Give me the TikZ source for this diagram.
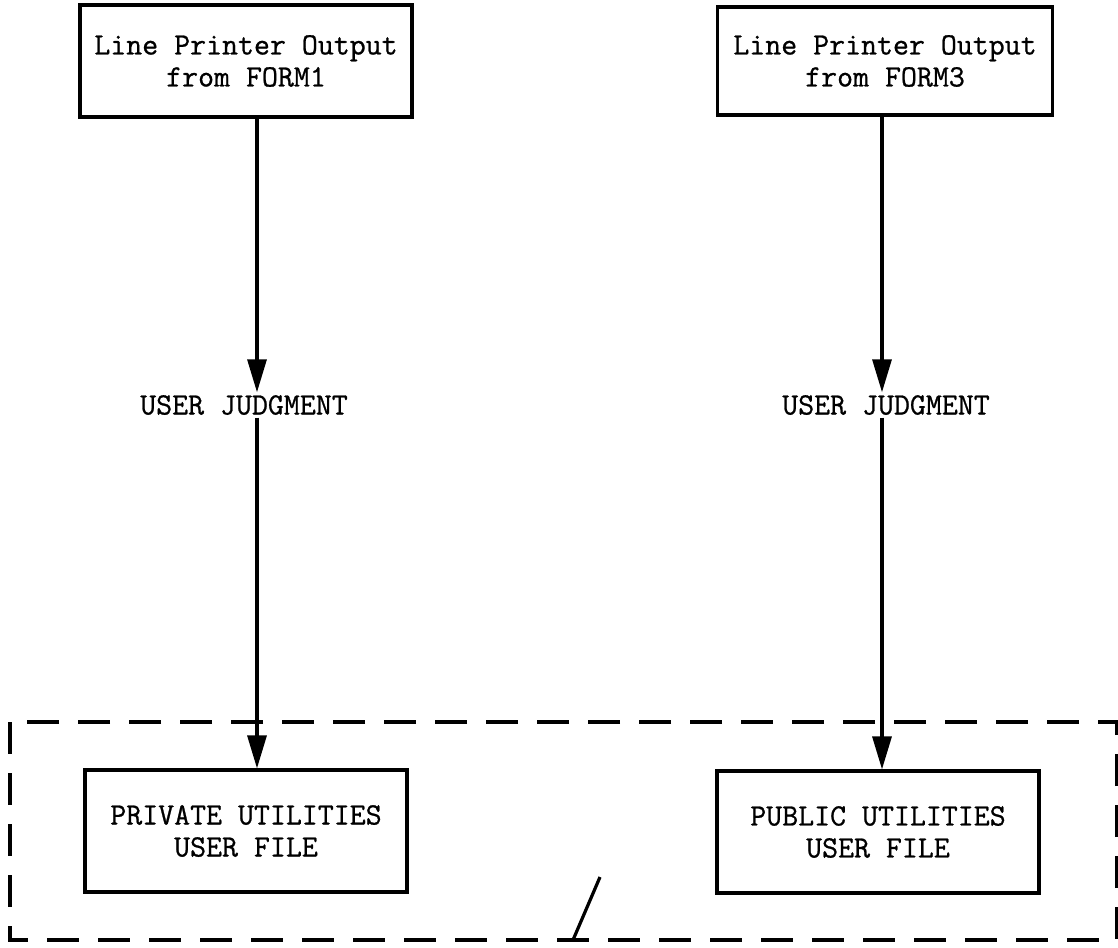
\documentclass[tikz,border=0pt]{standalone}
\usepackage{fontspec}
\usetikzlibrary{arrows.meta}
\newfontfamily\lpmono[FakeBold=0.8]{Latin Modern Mono}
\newcommand{\lpfont}{\fontsize{31}{32}\selectfont\lpmono}
\begin{document}
\begin{tikzpicture}[x=1pt,y=-1pt]
    \tikzset{
    lp box/.style={draw,line width=3.2pt,align=center,inner sep=0,font=\lpfont,minimum width=322pt,minimum height=122pt},
    lp judge/.style={font=\lpfont,text height=19pt,text depth=0pt,inner xsep=0,inner ysep=3pt},
    lp flow/.style={line width=3.2pt,-{Triangle[length=33pt,width=19pt]}},
    lp group/.style={line width=3.2pt,dash pattern=on 32pt off 19pt}
    }
    \useasboundingbox (0,0) rectangle (1118,947);

    % printer listings
    \node[lp box,minimum width=332pt,minimum height=112pt] (form1) at (246,61) {Line Printer Output\\from FORM1};
    \node[lp box,minimum width=335pt,minimum height=108pt] (form3) at (885,61) {Line Printer Output\\from FORM3};

    \node[lp judge] (judge1) at (244,405) {USER JUDGMENT};
    \node[lp judge] (judge3) at (886,405) {USER JUDGMENT};

    % user files
    \node[lp box] (private) at (246,831) {PRIVATE UTILITIES\\USER FILE};
    \node[lp box] (public) at (878,832) {PUBLIC UTILITIES\\USER FILE};

    \draw[lp flow] ([xshift=11pt]form1.south) -- ([xshift=13pt]judge1.north);
    \draw[lp flow] ([xshift=13pt]judge1.south) -- ([xshift=11pt]private.north);
    \draw[lp flow] ([xshift=-3pt]form3.south) -- ([xshift=-4pt]judge3.north);
    \draw[lp flow] ([xshift=-4pt]judge3.south) -- ([xshift=4pt]public.north);

    % dashed group round the files
    \draw[lp group] (10,722) rectangle (1117,940);
    \draw[line width=3.2pt] (573,940) -- (600,877);
\end{tikzpicture}
\end{document}
